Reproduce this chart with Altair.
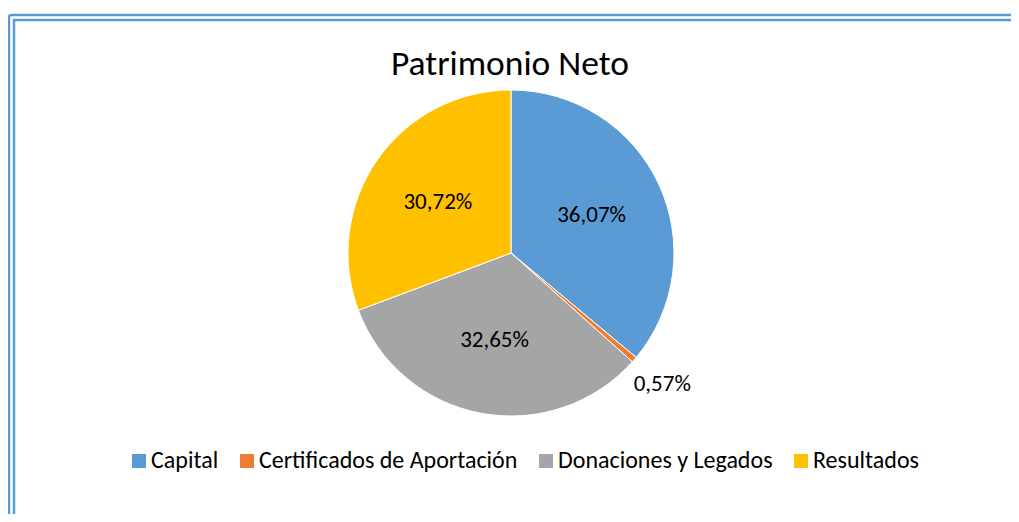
import altair as alt
import pandas as pd

categories = ["Capital", "Certificados de Aportación", "Donaciones y Legados", "Resultados"]
values = [36.07, 0.57, 32.65, 30.72]
colors = ["#5B9BD5", "#ED7D31", "#A5A5A5", "#FFC000"]
title_text = "Patrimonio Neto"

FONT = "Carlito, Calibri, Lato, sans-serif"

df = pd.DataFrame({
    "idx": list(range(len(categories))),
    "cat": categories,
    "value": values,
    "label": [f"{v:.2f}".replace(".", ",") + "%" for v in values],
})

CX, CY, R = 503, 245, 163

base = alt.Chart(df)

pie = base.mark_arc(outerRadius=R, stroke="white", strokeWidth=1).encode(
    theta=alt.Theta("value:Q", stack=True),
    color=alt.Color(
        "cat:N",
        scale=alt.Scale(domain=categories, range=colors),
        sort=categories,
        legend=alt.Legend(title=None),
    ),
    order=alt.Order("idx:Q"),
    x=alt.value(CX),
    y=alt.value(CY),
)

inner = base.transform_calculate(
    t="datum.value >= 2 ? datum.label : ''"
).mark_text(radius=89, fontSize=23, font=FONT, color="#000000").encode(
    theta=alt.Theta("value:Q", stack=True),
    text="t:N",
    order=alt.Order("idx:Q"),
    x=alt.value(CX),
    y=alt.value(CY),
)

outer = base.transform_calculate(
    t="datum.value < 2 ? datum.label : ''"
).mark_text(radius=200, fontSize=23, font=FONT, color="#000000").encode(
    theta=alt.Theta("value:Q", stack=True),
    text="t:N",
    order=alt.Order("idx:Q"),
    x=alt.value(CX),
    y=alt.value(CY),
)

one = pd.DataFrame({"t": [title_text]})
title = alt.Chart(one).mark_text(fontSize=35.5, font=FONT, color="#000000", baseline="alphabetic").encode(
    text="t:N", x=alt.value(CX - 1), y=alt.value(67)
)

frame_outer = alt.Chart(one).mark_rect(
    fill=None, stroke="#5B9BD5", strokeWidth=2.5, cornerRadius=2
).encode(x=alt.value(1), x2=alt.value(1040), y=alt.value(7), y2=alt.value(540))
frame_inner = alt.Chart(one).mark_rect(
    fill=None, stroke="#5B9BD5", strokeWidth=2.5
).encode(x=alt.value(6), x2=alt.value(1035), y=alt.value(12), y2=alt.value(535))

chart = alt.layer(frame_outer, frame_inner, pie, inner, outer, title).properties(
    width=1003,
    height=506,
    autosize=alt.AutoSizeParams(type="none"),
    padding=0,
    background="white",
).configure_view(stroke=None).configure_legend(
    orient="none",
    legendX=119,
    legendY=441,
    padding=0,
    direction="horizontal",
    symbolType="square",
    symbolSize=196,
    symbolStrokeWidth=0,
    labelFontSize=24,
    labelFont=FONT,
    labelColor="#000000",
    labelOffset=0,
    labelLimit=0,
    columnPadding=16,
)

chart.save("out.html", embed_options={"renderer": "svg", "actions": False})
